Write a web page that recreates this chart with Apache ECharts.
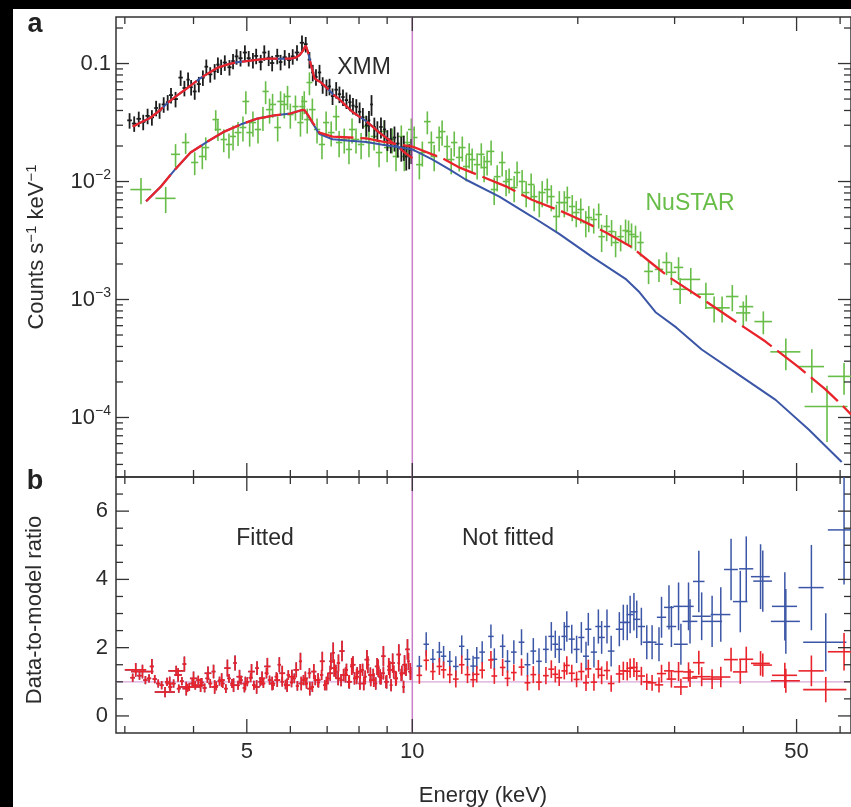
<!DOCTYPE html>
<html>
<head>
<meta charset="utf-8">
<script src="https://cdn.jsdelivr.net/npm/echarts@6.0.0/dist/echarts.min.js"></script>
<style>
html,body{margin:0;padding:0;background:#fff;}
#chart{width:851px;height:807px;}
</style>
</head>
<body>
<div id="chart"></div>
<script>
// ---------------- axis ranges & ticks ----------------
const X_MIN = 2.891, X_MAX = 62.8;          // keV
const YA_MIN = 3.13e-5, YA_MAX = 0.248;     // counts s^-1 keV^-1
const YB_MIN = -0.5, YB_MAX = 7;            // ratio
const FIT_LIMIT = 10;                       // keV
const RATIO_ONE = 1;

const xMajor = [5, 10, 50];
const xTickLabels = ['5', '10', '50'];
const xMinor = [3, 4, 6, 7, 8, 9, 20, 30, 40, 60];
const yaMajor = [1e-4, 1e-3, 1e-2, 0.1];
const yaTickLabels = ['10−4', '10−3', '10−2', '0.1'];
const yaMinor = [4e-5, 5e-5, 6e-5, 7e-5, 8e-5, 9e-5,
  2e-4, 3e-4, 4e-4, 5e-4, 6e-4, 7e-4, 8e-4, 9e-4,
  2e-3, 3e-3, 4e-3, 5e-3, 6e-3, 7e-3, 8e-3, 9e-3,
  0.02, 0.03, 0.04, 0.05, 0.06, 0.07, 0.08, 0.09, 0.2];
const ybMajor = [0, 2, 4, 6];
const ybTickLabels = ['0', '2', '4', '6'];
const ybMinor = [0.5, 1, 1.5, 2.5, 3, 3.5, 4.5, 5, 5.5, 6.5];

// ---------------- XMM spectrum (black) ----------------
const xmmE = [3.06,3.12,3.18,3.24,3.30,3.36,3.42,3.47,3.53,3.59,
  3.64,3.71,3.79,3.85,3.91,3.96,4.02,4.09,4.16,4.22,
  4.29,4.37,4.43,4.49,4.56,4.65,4.72,4.79,4.87,4.96,
  5.04,5.13,5.20,5.30,5.38,5.48,5.56,5.68,5.76,5.86,
  5.97,6.06,6.17,6.30,6.40,6.50,6.59,6.68,6.78,6.87,
  6.98,7.07,7.16,7.27,7.37,7.48,7.59,7.70,7.80,7.91,
  8.02,8.13,8.25,8.34,8.43,8.53,8.64,8.77,8.90,9.01,
  9.14,9.28,9.41,9.55,9.65,9.75,9.87,9.96];
const xmmV = [0.033,0.031,0.034,0.032,0.036,0.035,0.042,0.040,0.045,0.047,
  0.054,0.050,0.076,0.062,0.073,0.063,0.058,0.067,0.076,0.094,
  0.081,0.086,0.098,0.094,0.102,0.093,0.105,0.115,0.111,0.124,
  0.111,0.107,0.116,0.103,0.124,0.112,0.101,0.116,0.103,0.113,
  0.107,0.115,0.124,0.150,0.146,0.108,0.084,0.077,0.084,0.066,
  0.063,0.064,0.053,0.060,0.055,0.052,0.049,0.047,0.044,0.043,
  0.039,0.035,0.030,0.033,0.045,0.029,0.027,0.029,0.0276,0.0227,
  0.0228,0.0236,0.021,0.0194,0.0197,0.0163,0.0167,0.0185];
const xmmErr = [0.15,0.15,0.15,0.15,0.15,0.15,0.15,0.15,0.15,0.15,
  0.15,0.15,0.15,0.15,0.15,0.15,0.15,0.15,0.15,0.15,
  0.15,0.15,0.15,0.15,0.15,0.15,0.15,0.15,0.15,0.15,
  0.15,0.15,0.15,0.15,0.15,0.15,0.15,0.15,0.15,0.15,
  0.15,0.15,0.15,0.15,0.15,0.16,0.16,0.16,0.16,0.16,
  0.16,0.16,0.16,0.16,0.16,0.16,0.16,0.16,0.16,0.16,
  0.2,0.2,0.2,0.2,0.2,0.2,0.2,0.2,0.2,0.2,
  0.24,0.24,0.24,0.24,0.24,0.24,0.24,0.24];

// ---------------- NuSTAR spectrum (green) ----------------
const nuE = [3.21,3.56,3.71,3.87,4.02,4.15,4.21,4.39,4.43,4.54,
  4.64,4.72,4.82,4.92,4.98,5.06,5.13,5.24,5.35,5.41,
  5.50,5.57,5.69,5.76,5.85,5.93,6.00,6.13,6.26,6.31,
  6.36,6.44,6.50,6.58,6.71,6.85,6.97,7.12,7.27,7.36,
  7.52,7.67,7.77,7.90,8.07,8.24,8.34,8.52,8.70,8.89,
  9.00,9.19,9.34,9.55,9.67,9.79,9.96,10.08,10.30,10.43,
  10.65,10.83,10.96,11.19,11.33,11.57,11.77,11.92,12.17,12.33,
  12.53,12.69,12.85,13.12,13.35,13.51,13.68,13.91,14.09,14.27,
  14.57,14.81,15.00,15.32,15.51,15.84,16.11,16.45,16.66,17.02,
  17.23,17.60,17.90,18.28,18.51,18.90,19.14,19.54,19.87,20.25,
  20.68,20.94,21.38,21.83,22.10,22.57,23.04,23.43,23.93,24.43,
  24.74,25.05,25.47,26.01,26.9,28.1,29.0,29.6,30.5,30.7,
  32.1,34.2,35.4,36.6,38.2,40.0,40.5,43.5,47.8,53.3,
  56.8,61.0];
const nuV = [0.00855,0.0072,0.0170,0.0214,0.0145,0.0163,0.0194,0.0335,0.0276,0.0227,
  0.0206,0.0241,0.0260,0.0287,0.0477,0.0260,0.0316,0.0276,0.0348,0.058,
  0.0407,0.045,0.0287,0.0477,0.045,0.0526,0.0369,0.0432,0.0316,0.0432,
  0.0477,0.0335,0.069,0.0407,0.0276,0.0206,0.0316,0.0260,0.0355,0.0214,
  0.0227,0.0187,0.0276,0.0227,0.0206,0.0293,0.0214,0.0241,0.0176,0.0265,
  0.0194,0.0227,0.0163,0.0241,0.0163,0.0214,0.0276,0.0236,0.0139,0.0176,
  0.0322,0.0214,0.0163,0.0236,0.0265,0.0198,0.01535,0.0214,0.0160,0.0194,
  0.0134,0.0170,0.01535,0.0139,0.0170,0.01314,0.01477,0.0180,0.00855,0.0110,
  0.01448,0.0100,0.0104,0.00889,0.01192,0.0100,0.00806,0.00943,0.00745,0.00663,
  0.00806,0.00855,0.00745,0.00505,0.00663,0.00663,0.00731,0.00614,0.00546,0.00579,
  0.00449,0.00495,0.00476,0.00525,0.00341,0.00416,0.00377,0.00304,0.00341,0.00384,
  0.00377,0.00356,0.00341,0.00304,0.00173,0.00180,0.00206,0.00170,0.00187,0.00122,
  0.00148,0.00111,0.00085,0.00085,0.00106,0.00077,0.00087,0.00065,0.00036,0.00027,
  0.000124,0.000223];
const nuDE = [0.14,0.15,0.07,0.06,0.06,0.06,0.06,0.06,0.06,0.06,
  0.06,0.06,0.07,0.07,0.07,0.07,0.07,0.07,0.07,0.07,
  0.08,0.08,0.08,0.08,0.08,0.08,0.08,0.08,0.08,0.08,
  0.08,0.08,0.08,0.09,0.09,0.09,0.09,0.1,0.1,0.1,
  0.1,0.1,0.1,0.11,0.11,0.11,0.11,0.12,0.12,0.12,
  0.12,0.13,0.13,0.13,0.13,0.13,0.14,0.14,0.14,0.14,
  0.15,0.15,0.15,0.15,0.16,0.16,0.16,0.16,0.17,0.17,
  0.17,0.17,0.18,0.18,0.18,0.19,0.19,0.19,0.2,0.2,
  0.2,0.2,0.21,0.21,0.21,0.22,0.22,0.23,0.23,0.23,
  0.24,0.24,0.25,0.25,0.25,0.26,0.26,0.27,0.27,0.28,
  0.28,0.29,0.29,0.3,0.3,0.31,0.31,0.32,0.32,0.33,
  0.33,0.34,0.34,0.35,0.5,0.5,0.5,0.6,0.6,0.9,
  1.3,1.2,1.3,1.2,1.0,1.2,1.2,1.6,3.0,2.8,
  5.1,4.0];
const nuErr = [0.25,0.25,0.22,0.2,0.22,0.22,0.22,0.2,0.2,0.22,
  0.24,0.24,0.23,0.24,0.22,0.24,0.24,0.24,0.23,0.22,
  0.24,0.23,0.24,0.22,0.24,0.23,0.24,0.24,0.24,0.23,
  0.22,0.24,0.22,0.24,0.24,0.25,0.24,0.24,0.24,0.25,
  0.24,0.25,0.24,0.24,0.25,0.24,0.25,0.24,0.25,0.24,
  0.25,0.24,0.25,0.24,0.25,0.24,0.24,0.24,0.25,0.24,
  0.22,0.24,0.25,0.24,0.24,0.24,0.25,0.24,0.24,0.24,
  0.25,0.24,0.24,0.25,0.24,0.25,0.24,0.24,0.26,0.25,
  0.24,0.25,0.24,0.25,0.24,0.25,0.25,0.24,0.25,0.25,
  0.25,0.24,0.25,0.26,0.25,0.25,0.24,0.25,0.25,0.24,
  0.25,0.25,0.24,0.24,0.26,0.25,0.25,0.25,0.25,0.24,
  0.24,0.24,0.24,0.24,0.22,0.22,0.22,0.22,0.22,0.25,
  0.25,0.25,0.25,0.25,0.25,0.25,0.25,0.22,0.3,0.4,
  0.5,0.3];

// ---------------- models ----------------
const xmmModelE = [3.10,3.20,3.34,3.47,3.59,3.72,3.86,4.00,4.13,4.28,
  4.43,4.60,4.76,4.92,5.08,5.26,5.45,5.65,5.86,6.00,
  6.13,6.24,6.32,6.40,6.46,6.55,6.64,6.72,6.80,6.98,
  7.17,7.37,7.57,7.78,8.01,8.25,8.48,8.71,8.95,9.20,
  9.47,9.75,10.0];
const xmmModelV = [0.0292,0.0315,0.0347,0.040,0.0464,0.053,0.060,0.068,0.076,0.084,
  0.0925,0.098,0.102,0.104,0.106,0.108,0.110,0.110,0.110,0.110,
  0.112,0.118,0.128,0.142,0.125,0.095,0.075,0.072,0.070,0.0627,
  0.055,0.0496,0.044,0.039,0.0355,0.0324,0.029,0.026,0.0237,0.0214,
  0.0192,0.0172,0.0158];
const nuModelRedE = [3.28,3.49,3.70,3.95,4.24,4.55,4.87,5.23,5.61,6.00,
  6.26,6.36,6.45,6.59,6.78,7.16,7.69,8.25,8.83,9.47,
  10.0,10.87,11.3,12.2,13.4,14.8,16.5,18.5,20.3,22.5,
  25.0,27.0,29.3,33.6,38.2,43.9,50.3,56.3,60.4,62.8];
const nuModelRedV = [0.00681,0.00908,0.0126,0.0176,0.0218,0.0265,0.0304,0.0342,0.0363,0.0377,
  0.0400,0.0405,0.0370,0.0316,0.0260,0.0240,0.0236,0.0232,0.0218,0.0206,
  0.0198,0.0170,0.0159,0.0131,0.0110,0.0091,0.0070,0.0057,0.0047,0.0037,
  0.0028,0.0021,0.00155,0.00102,0.00068,0.00044,0.00027,0.000175,0.000128,0.000106];
const nuModelBlueE = [3.28,3.49,3.70,3.95,4.24,4.55,4.87,5.23,5.61,6.00,
  6.26,6.36,6.45,6.59,6.78,7.16,7.69,8.25,8.83,9.47,
  10.0,10.87,11.7,12.5,14.4,16.5,18.5,21.2,24.5,25.9,
  27.7,30.2,33.6,39.7,45.8,52.6,60.4];
const nuModelBlueV = [0.00681,0.00908,0.0126,0.0176,0.0218,0.0265,0.0304,0.0342,0.0363,0.0377,
  0.0400,0.0405,0.0368,0.0310,0.0252,0.0228,0.0222,0.0216,0.0205,0.0195,
  0.0187,0.0154,0.0126,0.0104,0.00746,0.00505,0.0036,0.00231,0.00148,0.00115,
  0.00078,0.00058,0.000377,0.000222,0.000141,0.000079,0.000042];

// ---------------- data-to-model ratio ----------------
// below 10 keV, XMM bins
const ratioLowE = [3.10,3.14,3.19,3.23,3.27,3.32,3.36,3.40,3.45,3.50,
  3.55,3.58,3.63,3.68,3.72,3.76,3.81,3.85,3.90,3.93,
  3.98,4.03,4.08,4.14,4.19,4.24,4.29,4.35,4.40,4.46,
  4.52,4.58,4.64,4.70,4.76,4.82,4.88,4.95,5.01,5.08,
  5.15,5.22,5.29,5.36,5.43,5.50,5.58,5.66,5.73,5.80,
  5.88,5.95,6.03,6.10,6.18,6.26,6.34,6.42,6.50,6.58,
  6.66,6.75,6.84,6.93,7.02,7.11,7.18,7.26,7.34,7.42,
  7.50,7.59,7.67,7.76,7.85,7.94,8.03,8.12,8.21,8.30,
  8.40,8.49,8.58,8.67,8.77,8.86,8.96,9.06,9.15,9.25,
  9.35,9.45,9.55,9.64,9.74,9.84,9.94];
const ratioLowR = [1.12,1.35,1.18,1.30,1.05,1.10,1.45,1.08,0.95,0.90,
  0.70,1.00,0.85,0.95,1.32,0.80,1.02,1.52,0.82,0.85,
  0.95,0.90,1.05,0.98,0.82,1.10,0.95,1.30,0.88,1.02,
  0.95,0.80,1.10,0.95,1.55,0.90,1.05,0.82,1.00,1.12,
  0.90,1.40,1.00,0.95,1.25,1.05,0.90,1.15,1.50,1.00,
  0.92,1.20,0.98,1.10,0.88,1.60,1.05,0.95,1.25,0.85,
  1.05,0.98,1.20,0.90,1.10,1.60,1.85,1.30,1.55,1.05,
  1.20,1.35,1.00,1.45,1.10,1.25,0.95,1.35,1.15,1.50,
  1.05,1.20,0.95,1.40,1.10,1.25,1.00,1.45,0.90,1.30,
  1.10,1.55,1.20,0.85,1.35,1.60,1.25];
const ratioLowDE = [0.03,0.14,0.03,0.15,0.03,0.03,0.03,0.03,0.03,0.03,
  0.15,0.03,0.03,0.03,0.12,0.03,0.03,0.03,0.03,0.18,
  0.035,0.035,0.035,0.035,0.035,0.035,0.035,0.035,0.035,0.035,
  0.035,0.035,0.035,0.035,0.035,0.035,0.035,0.035,0.04,0.04,
  0.04,0.04,0.04,0.04,0.04,0.04,0.04,0.04,0.04,0.04,
  0.04,0.04,0.04,0.04,0.04,0.04,0.04,0.04,0.045,0.045,
  0.045,0.045,0.045,0.045,0.045,0.045,0.045,0.05,0.05,0.05,
  0.05,0.05,0.05,0.05,0.05,0.05,0.05,0.05,0.05,0.05,
  0.05,0.05,0.05,0.05,0.05,0.05,0.05,0.05,0.05,0.05,
  0.05,0.05,0.05,0.05,0.05,0.05,0.05];
const ratioLowErr = [0.12,0.2,0.12,0.2,0.12,0.12,0.22,0.12,0.12,0.12,
  0.15,0.12,0.12,0.12,0.15,0.12,0.12,0.22,0.12,0.12,
  0.13,0.13,0.13,0.13,0.13,0.13,0.13,0.2,0.13,0.13,
  0.13,0.13,0.13,0.13,0.22,0.13,0.13,0.13,0.13,0.13,
  0.13,0.2,0.13,0.13,0.15,0.13,0.13,0.13,0.22,0.14,
  0.14,0.14,0.14,0.14,0.14,0.25,0.15,0.15,0.15,0.15,
  0.15,0.15,0.15,0.15,0.15,0.25,0.3,0.2,0.25,0.18,
  0.18,0.18,0.18,0.25,0.18,0.18,0.18,0.18,0.18,0.25,
  0.18,0.18,0.18,0.25,0.18,0.18,0.18,0.25,0.18,0.18,
  0.18,0.25,0.18,0.18,0.18,0.25,0.18];
// below 10 keV, NuSTAR bins
const ratioLow2E = [3.62,3.75,3.88,4.00,4.12,4.25,4.37,4.50,4.61,4.73,
  4.85,4.97,5.10,5.21,5.33,5.45,5.56,5.68,5.80,5.92,
  6.04,6.15,6.28,6.39,6.51,6.62,6.74,6.86,6.98,7.09,
  7.21,7.33,7.45,7.56,7.68,7.80,7.92,8.04,8.16,8.27,
  8.39,8.51,8.63,8.74,8.86,8.98,9.10,9.21,9.33,9.45,
  9.57,9.68,9.80,9.92];
const ratioLow2R = [0.95,1.20,0.80,1.10,0.90,1.25,0.85,1.05,1.40,0.90,
  1.15,0.95,1.30,0.85,1.10,1.45,0.95,1.05,1.25,0.90,
  1.15,1.35,0.95,1.10,0.80,1.30,1.05,1.60,0.95,1.25,
  1.40,1.10,1.90,1.20,1.00,1.50,1.15,1.30,0.95,1.65,
  1.20,1.05,1.45,1.15,1.75,1.00,1.35,1.55,1.10,1.80,
  1.25,1.50,1.95,1.30];
const ratioLow2DE = [0.06,0.06,0.06,0.06,0.06,0.06,0.06,0.06,0.06,0.06,
  0.06,0.06,0.07,0.07,0.07,0.07,0.07,0.07,0.07,0.07,
  0.07,0.07,0.07,0.07,0.07,0.07,0.07,0.07,0.07,0.08,
  0.08,0.08,0.08,0.08,0.08,0.08,0.08,0.08,0.08,0.08,
  0.08,0.08,0.08,0.08,0.08,0.08,0.09,0.09,0.09,0.09,
  0.09,0.09,0.09,0.09];
const ratioLow2Err = [0.2,0.2,0.2,0.2,0.2,0.2,0.2,0.2,0.25,0.2,
  0.2,0.2,0.22,0.2,0.2,0.25,0.2,0.2,0.22,0.2,
  0.2,0.22,0.2,0.2,0.2,0.22,0.2,0.28,0.2,0.22,
  0.25,0.2,0.3,0.22,0.2,0.25,0.22,0.22,0.2,0.28,
  0.22,0.2,0.25,0.22,0.3,0.2,0.25,0.28,0.22,0.3,
  0.22,0.28,0.3,0.25];

// above 10 keV
const ratioHighE = [10.3,10.6,10.9,11.2,11.4,11.7,12.0,12.3,12.6,12.9,
  13.1,13.4,13.9,14.1,14.6,14.9,15.3,15.8,16.2,16.6,
  17.0,17.5,17.9,18.2,18.5,18.9,19.1,19.5,19.9,20.3,
  20.7,20.9,21.4,21.8,22.1,22.6,23.0,23.8,24.2,24.6,
  24.9,25.3,25.6,26.1,26.7,27.3,28.1,28.4,29.3,29.6,
  30.5,30.8,31.8,32.0,33.2,33.6,35.1,36.4,38.0,39.5,
  40.5,43.0,43.4,47.6,47.8,53.2,56.5,61.0];
const ratioHighDE = [0.12,0.12,0.12,0.13,0.13,0.13,0.14,0.14,0.15,0.15,
  0.15,0.16,0.16,0.17,0.17,0.18,0.18,0.19,0.2,0.2,
  0.2,0.21,0.22,0.22,0.23,0.23,0.24,0.25,0.25,0.26,
  0.26,0.27,0.28,0.28,0.3,0.3,0.32,0.35,0.35,0.36,
  0.36,0.38,0.38,0.4,0.45,0.5,0.5,0.55,0.6,0.6,
  0.65,0.9,0.7,1.0,0.8,1.3,1.5,1.5,1.1,1.2,
  1.2,1.7,1.7,2.5,2.9,2.8,5.1,4.0];
const ratioBlueR = [1.46,2.10,1.66,1.87,1.75,1.60,1.45,2.04,1.66,1.46,
  1.70,1.87,2.33,1.66,2.04,1.60,1.87,2.16,1.50,1.90,
  1.60,1.95,2.33,2.10,1.95,2.33,2.62,2.25,1.95,2.30,
  1.75,2.54,1.87,2.62,2.30,2.62,1.90,2.54,2.74,2.74,
  2.97,3.05,2.83,2.62,2.16,2.16,2.10,2.89,3.18,2.62,
  3.21,2.10,3.21,2.77,3.94,2.92,2.77,2.97,4.29,3.35,
  4.31,4.08,3.95,3.21,2.77,3.76,2.16,5.45];
const ratioBlueErr = [0.3,0.35,0.3,0.3,0.3,0.3,0.3,0.32,0.3,0.3,
  0.32,0.32,0.35,0.32,0.35,0.33,0.35,0.38,0.35,0.38,
  0.38,0.4,0.42,0.4,0.4,0.42,0.45,0.42,0.4,0.45,
  0.42,0.48,0.45,0.5,0.48,0.5,0.45,0.5,0.52,0.52,
  0.55,0.55,0.55,0.55,0.5,0.5,0.5,0.6,0.65,0.6,
  0.7,0.6,0.7,0.65,0.9,0.7,0.75,0.8,0.9,0.9,
  0.95,0.95,0.9,1.0,0.95,1.25,0.85,1.6];
const ratioRedR = [1.19,1.63,1.30,1.45,1.35,1.21,1.08,1.50,1.21,1.06,
  1.22,1.34,1.64,1.17,1.42,1.10,1.27,1.43,0.97,1.21,
  0.99,1.18,1.37,1.22,1.12,1.32,1.48,1.25,1.07,1.30,
  0.97,1.38,0.99,1.37,1.19,1.33,0.95,1.23,1.32,1.31,
  1.40,1.42,1.31,1.17,1.00,0.97,0.91,1.24,1.32,1.08,
  1.30,0.85,1.29,1.11,1.56,1.15,1.08,1.14,1.65,1.29,
  1.66,1.54,1.49,1.19,1.03,1.32,0.77,1.88];
const ratioRedErr = [0.25,0.3,0.25,0.25,0.25,0.25,0.25,0.27,0.25,0.22,
  0.24,0.24,0.26,0.23,0.25,0.23,0.24,0.25,0.23,0.25,
  0.24,0.25,0.26,0.24,0.24,0.25,0.27,0.25,0.23,0.26,
  0.24,0.27,0.25,0.27,0.26,0.27,0.24,0.26,0.27,0.27,
  0.28,0.28,0.27,0.27,0.24,0.23,0.22,0.26,0.27,0.25,
  0.28,0.24,0.28,0.26,0.35,0.28,0.29,0.3,0.35,0.35,
  0.37,0.36,0.34,0.37,0.35,0.45,0.37,0.55];

// ---------------- styling ----------------
const FONT = '"Liberation Sans", Arial, Helvetica, sans-serif';
const TXT = '#2b2b2b';
const C_BLACK = '#1c1c1c', C_GREEN = '#67bd47', C_RED = '#e8232b', C_BLUE = '#3b56a6';
const C_MAG = '#c87ec8', C_PINK = '#d9a8d9';

// ---------------- helpers ----------------
function halfSpacing(E) {
  return E.map((e, i) => {
    const a = i > 0 ? E[i - 1] : 2 * e - E[i + 1];
    const b = i < E.length - 1 ? E[i + 1] : 2 * e - E[i - 1];
    return (b - a) / 4;
  });
}
function rowsRel(E, V, DE, ERR) {
  return E.map((e, i) => [e, V[i], e - DE[i], e + DE[i], V[i] * (1 - ERR[i]), V[i] * (1 + ERR[i])]);
}
function rowsAbs(E, V, DE, ERR) {
  return E.map((e, i) => [e, V[i], e - DE[i], e + DE[i], V[i] - ERR[i], V[i] + ERR[i]]);
}
function pairs(E, V) { return E.map((e, i) => [e, V[i]]); }

function crossSeries(xi, yi, rows, color, lw, yMin, yMax, z) {
  return {
    type: 'custom', xAxisIndex: xi, yAxisIndex: yi, silent: true, z: z || 2,
    data: rows, encode: { x: 0, y: 1 },
    renderItem(params, api) {
      const e = api.value(0), v = api.value(1);
      const elo = Math.max(api.value(2), X_MIN), ehi = Math.min(api.value(3), X_MAX);
      const vlo = Math.max(api.value(4), yMin), vhi = Math.min(api.value(5), yMax);
      const a = api.coord([elo, v]), b = api.coord([ehi, v]);
      const c = api.coord([e, vlo]), d = api.coord([e, vhi]);
      const st = { stroke: color, lineWidth: lw };
      return { type: 'group', children: [
        { type: 'line', shape: { x1: a[0], y1: a[1], x2: b[0], y2: b[1] }, style: st },
        { type: 'line', shape: { x1: c[0], y1: c[1], x2: d[0], y2: d[1] }, style: st }
      ] };
    }
  };
}

function lineSeries(xi, yi, data, color, width, dash, z) {
  return {
    type: 'line', xAxisIndex: xi, yAxisIndex: yi, data: data, silent: true,
    symbol: 'none', showSymbol: false, z: z || 3,
    lineStyle: { color: color, width: width, type: dash || 'solid' }
  };
}

function richLabel(t) {
  if (t.indexOf('10−') === 0) return '{b|10}{s|' + t.slice(2) + '}';
  return '{b|' + t + '}';
}
const RICH_TICK = {
  b: { fontSize: 22, fontFamily: FONT, fill: TXT, lineHeight: 26 },
  s: { fontSize: 14, fontFamily: FONT, fill: TXT, verticalAlign: 'top' }
};

function tickSeries(xi, yi, rows, opt) {
  return {
    type: 'custom', xAxisIndex: xi, yAxisIndex: yi, silent: true, z: 20,
    data: rows, encode: { x: 0, y: 1 },
    renderItem(params, api) {
      const cs = params.coordSys;
      const L = cs.x, T = cs.y, R = cs.x + cs.width, B = cs.y + cs.height;
      const kind = api.value(2), li = api.value(3);
      const p = api.coord([api.value(0), api.value(1)]);
      const st = { stroke: '#333', lineWidth: 1.3 };
      const ch = [];
      if (kind < 2) {
        const len = kind === 0 ? 14 : 7, x = p[0];
        ch.push({ type: 'line', shape: { x1: x, y1: T, x2: x, y2: T + len }, style: st });
        ch.push({ type: 'line', shape: { x1: x, y1: B, x2: x, y2: B - len }, style: st });
        if (kind === 0 && opt.xLabels) {
          ch.push({ type: 'text', style: { text: opt.xLabels[li], x: x, y: B + 8,
            align: 'center', verticalAlign: 'top', font: '22px ' + FONT, fill: TXT } });
        }
      } else {
        const len = kind === 2 ? 13 : 7, y = p[1];
        ch.push({ type: 'line', shape: { x1: L, y1: y, x2: L + len, y2: y }, style: st });
        ch.push({ type: 'line', shape: { x1: R, y1: y, x2: R - len, y2: y }, style: st });
        if (kind === 2 && opt.yLabels) {
          ch.push({ type: 'text', style: { text: richLabel(opt.yLabels[li]), x: L - opt.yGap, y: y,
            align: 'right', verticalAlign: 'middle', font: '22px ' + FONT, fill: TXT, rich: RICH_TICK } });
        }
      }
      return { type: 'group', children: ch };
    }
  };
}

const ticksA = [].concat(
  xMajor.map((v, i) => [v, YA_MIN, 0, i]),
  xMinor.map((v, i) => [v, YA_MIN, 1, i]),
  yaMajor.map((v, i) => [X_MIN, v, 2, i]),
  yaMinor.map((v, i) => [X_MIN, v, 3, i])
);
const ticksB = [].concat(
  xMajor.map((v, i) => [v, YB_MIN, 0, i]),
  xMinor.map((v, i) => [v, YB_MIN, 1, i]),
  ybMajor.map((v, i) => [X_MIN, v, 2, i]),
  ybMinor.map((v, i) => [X_MIN, v, 3, i])
);

const xmmRows = rowsRel(xmmE, xmmV, halfSpacing(xmmE), xmmErr);
const nuRows = rowsRel(nuE, nuV, nuDE, nuErr);
const lowRows = rowsAbs(ratioLowE, ratioLowR, ratioLowDE, ratioLowErr);
const low2Rows = rowsAbs(ratioLow2E, ratioLow2R, ratioLow2DE, ratioLow2Err);
const blueHighRows = rowsAbs(ratioHighE, ratioBlueR, ratioHighDE, ratioBlueErr);
const redHighRows = rowsAbs(ratioHighE, ratioRedR, ratioHighDE, ratioRedErr);

const DASH = [36, 7];

const chart = echarts.init(document.getElementById('chart'), null, { renderer: 'canvas' });
chart.setOption({
  backgroundColor: '#ffffff',
  animation: false,
  grid: [
    { left: 116, top: 17, width: 737, height: 460, show: true, borderColor: '#333', borderWidth: 1.5, backgroundColor: 'transparent' },
    { left: 116, top: 477, width: 737, height: 256, show: true, borderColor: '#333', borderWidth: 1.5, backgroundColor: 'transparent' }
  ],
  xAxis: [
    { type: 'log', logBase: 10, gridIndex: 0, min: X_MIN, max: X_MAX, show: false },
    { type: 'log', logBase: 10, gridIndex: 1, min: X_MIN, max: X_MAX, show: false }
  ],
  yAxis: [
    { type: 'log', logBase: 10, gridIndex: 0, min: YA_MIN, max: YA_MAX, show: false },
    { type: 'value', gridIndex: 1, min: YB_MIN, max: YB_MAX, show: false }
  ],
  series: [
    // panel a
    crossSeries(0, 0, nuRows, C_GREEN, 1.6, YA_MIN, YA_MAX, 2),
    crossSeries(0, 0, xmmRows, C_BLACK, 1.8, YA_MIN, YA_MAX, 2),
    lineSeries(0, 0, [[FIT_LIMIT, YA_MIN], [FIT_LIMIT, YA_MAX]], C_MAG, 1.5, 'solid', 4),
    lineSeries(0, 0, pairs(xmmModelE, xmmModelV), C_BLUE, 2, 'solid', 5),
    lineSeries(0, 0, pairs(nuModelBlueE, nuModelBlueV), C_BLUE, 2, 'solid', 5),
    lineSeries(0, 0, pairs(xmmModelE, xmmModelV), C_RED, 2.3, DASH, 6),
    lineSeries(0, 0, pairs(nuModelRedE, nuModelRedV), C_RED, 2.3, DASH, 6),
    // panel b
    lineSeries(1, 1, [[X_MIN, RATIO_ONE], [X_MAX, RATIO_ONE]], C_PINK, 1.2, 'solid', 1),
    crossSeries(1, 1, lowRows, C_BLUE, 1.4, YB_MIN, YB_MAX, 2),
    crossSeries(1, 1, low2Rows, C_BLUE, 1.4, YB_MIN, YB_MAX, 2),
    crossSeries(1, 1, blueHighRows, C_BLUE, 1.5, YB_MIN, YB_MAX, 2),
    crossSeries(1, 1, lowRows, C_RED, 1.7, YB_MIN, YB_MAX, 3),
    crossSeries(1, 1, low2Rows, C_RED, 1.7, YB_MIN, YB_MAX, 3),
    crossSeries(1, 1, redHighRows, C_RED, 1.6, YB_MIN, YB_MAX, 3),
    lineSeries(1, 1, [[FIT_LIMIT, YB_MIN], [FIT_LIMIT, YB_MAX]], C_MAG, 1.5, 'solid', 4),
    // ticks
    tickSeries(0, 0, ticksA, { yLabels: yaTickLabels, yGap: 5 }),
    tickSeries(1, 1, ticksB, { xLabels: xTickLabels, yLabels: ybTickLabels, yGap: 8 })
  ],
  graphic: [
    { type: 'text', x: 35, y: 25, z: 50, style: { text: 'a', font: 'bold 27px ' + FONT, fill: '#222', align: 'center', verticalAlign: 'middle' } },
    { type: 'text', x: 35, y: 482, z: 50, style: { text: 'b', font: 'bold 27px ' + FONT, fill: '#222', align: 'center', verticalAlign: 'middle' } },
    { type: 'text', x: 364, y: 68, z: 50, style: { text: 'XMM', font: '23px ' + FONT, fill: TXT, align: 'center', verticalAlign: 'middle' } },
    { type: 'text', x: 690, y: 204, z: 50, style: { text: 'NuSTAR', font: '23px ' + FONT, fill: C_GREEN, align: 'center', verticalAlign: 'middle' } },
    { type: 'text', x: 265, y: 539, z: 50, style: { text: 'Fitted', font: '23px ' + FONT, fill: TXT, align: 'center', verticalAlign: 'middle' } },
    { type: 'text', x: 508, y: 539, z: 50, style: { text: 'Not fitted', font: '23px ' + FONT, fill: TXT, align: 'center', verticalAlign: 'middle' } },
    { type: 'text', x: 483, y: 796, z: 50, style: { text: 'Energy (keV)', font: '22px ' + FONT, fill: TXT, align: 'center', verticalAlign: 'middle' } },
    { type: 'text', x: 37, y: 247, rotation: Math.PI / 2, z: 50, style: {
      text: '{n|Counts s}{s|−1}{n| keV}{s|−1}', align: 'center', verticalAlign: 'middle', font: '22px ' + FONT, fill: TXT,
      rich: { n: { fontSize: 22, fontFamily: FONT, fill: TXT, lineHeight: 26 }, s: { fontSize: 15, fontFamily: FONT, fill: TXT, verticalAlign: 'top' } } } },
    { type: 'text', x: 35, y: 610, rotation: Math.PI / 2, z: 50, style: {
      text: 'Data-to-model ratio', align: 'center', verticalAlign: 'middle', font: '22px ' + FONT, fill: TXT } },
    { type: 'rect', shape: { x: 0, y: 0, width: 851, height: 9 }, z: 100, style: { fill: '#000' } },
    { type: 'rect', shape: { x: 0, y: 0, width: 13, height: 807 }, z: 100, style: { fill: '#000' } }
  ]
});
</script>
</body>
</html>
